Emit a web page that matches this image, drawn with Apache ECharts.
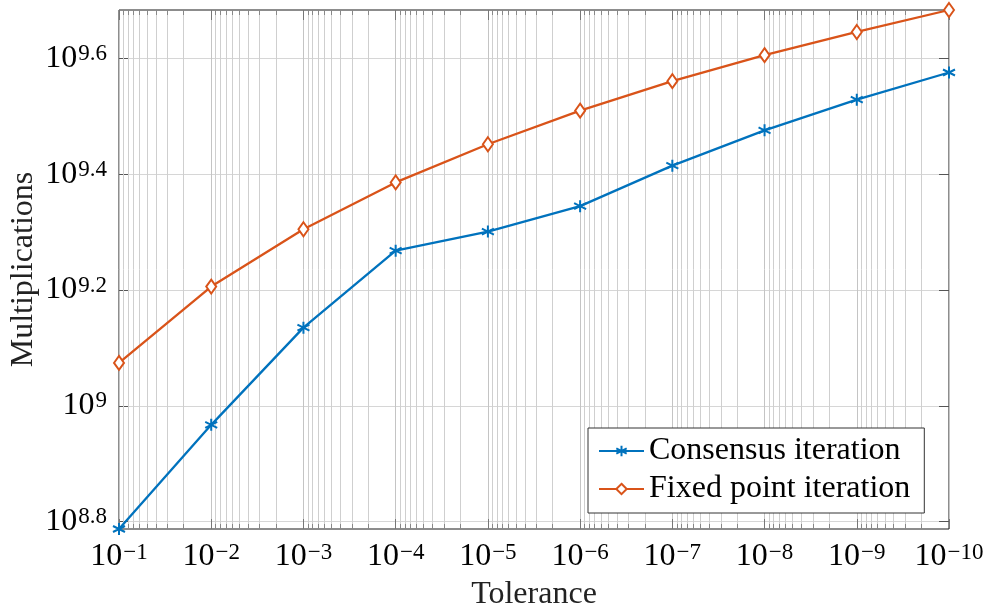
<!DOCTYPE html>
<html>
<head>
<meta charset="utf-8">
<script src="https://cdn.jsdelivr.net/npm/echarts@6/dist/echarts.min.js"></script>
<style>
html,body{margin:0;padding:0;background:#fff;}
#chart{width:987px;height:609px;}
</style>
</head>
<body>
<div id="chart"></div>
<script>
// Tolerance exponents (10^n) and log10 of multiplication counts
const tolExp = [-1, -2, -3, -4, -5, -6, -7, -8, -9, -10];
const consensusLog = [8.787, 8.967, 9.135, 9.268, 9.301, 9.345, 9.415, 9.476, 9.529, 9.576];
const fixedLog = [9.074, 9.206, 9.305, 9.386, 9.452, 9.510, 9.561, 9.606, 9.646, 9.684];
const yTickExp = [8.8, 9.0, 9.2, 9.4, 9.6];
const seriesNames = ['Consensus iteration', 'Fixed point iteration'];

const Y_MIN = 8.787, Y_MAX = 9.684;
const X_MIN = 1, X_MAX = 10;
const FONT = '"Liberation Serif", "Times New Roman", serif';

// minor log grid positions (x = -log10(tolerance))
const minorX = [];
for (let n = 1; n < 10; n++) {
  for (let k = 2; k <= 9; k++) minorX.push(n + 1 - Math.log10(k));
}

const rich = {
  b: {fontSize: 32, fontFamily: FONT, color: '#000'},
  s: {fontSize: 23, fontFamily: FONT, color: '#000', verticalAlign: 'top', padding: [0, 0, 0, 1]}
};

const asterisk = 'path://M5,0L5,10M0.67,2.5L9.33,7.5M0.67,7.5L9.33,2.5';

const chart = echarts.init(document.getElementById('chart'), null, {renderer: 'canvas'});
chart.setOption({
  animation: false,
  backgroundColor: '#fff',
  grid: {left: 119, top: 10, width: 830, height: 519, containLabel: false, outerBoundsMode: 'none',
    show: true, borderColor: '#1a1a1a', borderWidth: 1, backgroundColor: 'transparent'},
  legend: {
    data: seriesNames,
    orient: 'vertical',
    left: 588, top: 428,
    padding: [7, 14, 8, 10],
    itemGap: 6,
    itemWidth: 45, itemHeight: 13,
    backgroundColor: '#fff',
    borderColor: '#333', borderWidth: 1,
    textStyle: {fontSize: 32, fontFamily: FONT, color: '#000'}
  },
  xAxis: [{
    type: 'value', min: X_MIN, max: X_MAX, interval: 1, position: 'bottom',
    name: 'Tolerance', nameLocation: 'middle', nameGap: 50, nameMoveOverlap: false,
    nameTextStyle: {fontSize: 32, fontFamily: FONT, color: '#222'},
    axisLine: {show: false},
    axisTick: {show: true, inside: true, length: 10, lineStyle: {color: '#777'}},
    axisLabel: {margin: 12, formatter: v => '{b|10}{s|\u2212' + Math.round(v) + '}', rich: rich},
    splitLine: {show: true, lineStyle: {color: '#c4c4c4', width: 1}}
  }, {
    type: 'value', min: X_MIN, max: X_MAX, interval: 1, position: 'top',
    axisLine: {show: false},
    axisTick: {show: true, inside: true, length: 10, lineStyle: {color: '#777'}},
    axisLabel: {show: false},
    splitLine: {show: false}
  }],
  yAxis: [{
    type: 'value', min: Y_MIN, max: Y_MAX, position: 'left',
    name: 'Multiplications', nameLocation: 'middle', nameGap: 79, nameMoveOverlap: false,
    nameTextStyle: {fontSize: 32, fontFamily: FONT, color: '#222'},
    axisLine: {show: false},
    axisTick: {show: true, inside: true, length: 10, lineStyle: {color: '#555'}, customValues: yTickExp},
    axisLabel: {margin: 12, customValues: yTickExp,
      formatter: v => '{b|10}{s|' + String(Number(v.toFixed(1))) + '}', rich: rich},
    splitLine: {show: true, lineStyle: {color: '#d6d6d6', width: 1}}
  }, {
    type: 'value', min: Y_MIN, max: Y_MAX, position: 'right',
    axisLine: {show: false},
    axisTick: {show: true, inside: true, length: 10, lineStyle: {color: '#555'}, customValues: yTickExp},
    axisLabel: {show: false},
    splitLine: {show: false}
  }],
  series: [{
    type: 'custom', name: 'minor', silent: true, z: 1,
    xAxisIndex: 0, yAxisIndex: 0,
    data: minorX.map(v => [v, Y_MIN]),
    renderItem: function (params, api) {
      const x = api.value(0);
      const b = api.coord([x, Y_MIN]);
      const t = api.coord([x, Y_MAX]);
      const px = Math.round(b[0]) + 0.5;
      return {type: 'group', children: [
        {type: 'line', shape: {x1: px, y1: t[1], x2: px, y2: b[1]}, style: {stroke: '#cfcfcf', lineWidth: 1}},
        {type: 'line', shape: {x1: px, y1: b[1], x2: px, y2: b[1] - 5}, style: {stroke: '#888', lineWidth: 1}},
        {type: 'line', shape: {x1: px, y1: t[1], x2: px, y2: t[1] + 5}, style: {stroke: '#888', lineWidth: 1}}
      ]};
    }
  }, {
    type: 'line', name: seriesNames[0], z: 5,
    data: tolExp.map((e, i) => [-e, consensusLog[i]]),
    symbol: asterisk, symbolSize: 12,
    itemStyle: {color: '#0072BD', borderColor: '#0072BD', borderWidth: 2},
    lineStyle: {color: '#0072BD', width: 2.3},
    clip: false
  }, {
    type: 'line', name: seriesNames[1], z: 6,
    data: tolExp.map((e, i) => [-e, fixedLog[i]]),
    symbol: 'emptyDiamond', symbolSize: [10, 14],
    itemStyle: {color: '#D95319'},
    lineStyle: {color: '#D95319', width: 2.3},
    clip: false
  }]
});
</script>
</body>
</html>
